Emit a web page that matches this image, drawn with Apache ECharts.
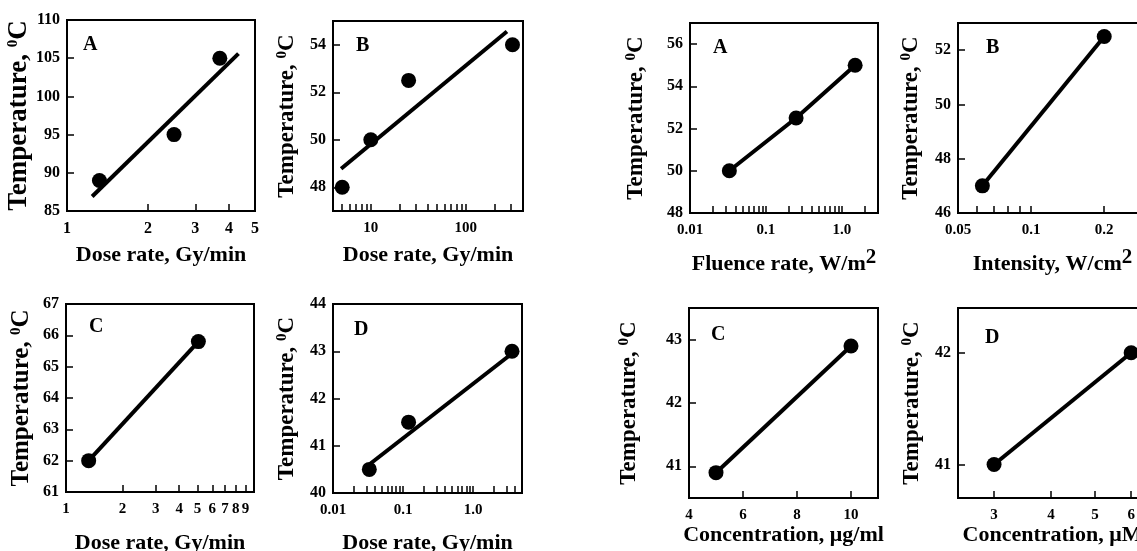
<!DOCTYPE html>
<html>
<head>
<meta charset="utf-8">
<script src="https://cdn.jsdelivr.net/npm/echarts@6/dist/echarts.min.js"></script>
<style>
html, body { margin: 0; padding: 0; background: #fff; }
#chart { width: 1137px; height: 551px; }
</style>
</head>
<body>
<div id="chart"></div>
<script>
// values
// left block, panel A: dose rate (Gy/min) vs temperature
var aDose = [1.32, 2.5, 3.7]
var aTemp = [89, 95, 105]
var aFitDose = [1.24, 4.34]
var aFitTemp = [86.9, 105.6]
var aXLabels = ['1', '2', '3', '4', '5']
var aXTicks = [2, 3, 4]
var aYLabels = [85, 90, 95, 100, 105, 110]

// left block, panel B
var bDose = [5, 10, 25, 310]
var bTemp = [48, 50, 52.5, 54]
var bFitDose = [4.87, 271]
var bFitTemp = [48.78, 54.56]
var bXLabels = ['10', '100']
var bXTicks = [5, 6, 7, 8, 9, 10, 20, 30, 40, 50, 60, 70, 80, 90, 100, 200, 300]
var bYLabels = [48, 50, 52, 54]

// left block, panel C
var cDose = [1.32, 5.06]
var cTemp = [62, 65.8]
var cXLabels = ['1', '2', '3', '4', '5', '6', '7', '8', '9']
var cXTicks = [2, 3, 4, 5, 6, 7, 8, 9]
var cYLabels = [61, 62, 63, 64, 65, 66, 67]

// left block, panel D
var dDose = [0.033, 0.12, 3.6]
var dTemp = [40.5, 41.5, 43]
var dFitDose = [0.034, 3.24]
var dFitTemp = [40.62, 42.9]
var dXLabels = ['0.01', '0.1', '1.0']
var dXTicks = [0.02, 0.03, 0.04, 0.05, 0.06, 0.07, 0.08, 0.09, 0.1, 0.2, 0.3, 0.4, 0.5, 0.6, 0.7, 0.8, 0.9, 1, 2, 3, 4]
var dYLabels = [40, 41, 42, 43, 44]

// right block, panel A: fluence rate (W/m2)
var eFluence = [0.033, 0.25, 1.5]
var eTemp = [50, 52.5, 55]
var eXLabels = ['0.01', '0.1', '1.0']
var eXTicks = [0.02, 0.03, 0.04, 0.05, 0.06, 0.07, 0.08, 0.09, 0.1, 0.2, 0.3, 0.4, 0.5, 0.6, 0.7, 0.8, 0.9, 1, 2]
var eYLabels = [48, 50, 52, 54, 56]

// right block, panel B: intensity (W/cm2)
var fIntensity = [0.063, 0.2]
var fTemp = [47, 52.5]
var fXLabels = ['0.05', '0.1', '0.2']
var fXTicks = [0.06, 0.07, 0.08, 0.09, 0.1, 0.2]
var fYLabels = [46, 48, 50, 52]

// right block, panel C: concentration (ug/ml)
var gConc = [5, 10]
var gTemp = [40.9, 42.9]
var gXLabels = ['4', '6', '8', '10']
var gXTicks = [6, 8, 10]
var gYLabels = [41, 42, 43]

// right block, panel D: concentration (uM)
var hConc = [3, 6]
var hTemp = [41, 42]
var hXLabels = ['3', '4', '5', '6']
var hXTicks = [3, 4, 5, 6]
var hYLabels = [41, 42]

var FONT = 'Liberation Serif'
var chart = echarts.init(document.getElementById('chart'))

var grids = [], xAxes = [], yAxes = [], series = [], titles = []

function pairs(xs, ys, log) {
    return xs.map(function (x, k) { return [log ? Math.log10(x) : x, ys[k]] })
}

function addPanel(p) {
    var i = grids.length
    var tx = function (v) { return p.log ? Math.log10(v) : v }
    grids.push({
        left: p.box[0], top: p.box[1], width: p.box[2], height: p.box[3],
        show: true, borderColor: '#000', borderWidth: 2,
        outerBoundsMode: 'none', containLabel: false
    })
    var labelVals = p.xLabels.map(function (s) { return tx(parseFloat(s)) })
    xAxes.push({
        type: 'value', gridIndex: i,
        min: tx(p.xRange[0]), max: tx(p.xRange[1]),
        name: p.xName, nameLocation: 'middle', nameGap: p.xGap,
        nameTextStyle: {
            fontFamily: FONT, fontWeight: 'bold', fontSize: 22, color: '#000',
            rich: { s: { fontFamily: FONT, fontWeight: 'bold', fontSize: 21, color: '#000', padding: [0, 0, 13, 0] } }
        },
        axisLine: { show: true, onZero: false, lineStyle: { color: '#000', width: 2 } },
        axisTick: { show: true, inside: true, length: 7, customValues: p.xTicks.map(tx), lineStyle: { color: '#000', width: 1.5 } },
        axisLabel: {
            customValues: labelVals, margin: 10,
            fontFamily: FONT, fontWeight: 'bold', fontSize: p.tickSize || 15, color: '#000',
            formatter: function (v) {
                for (var k = 0; k < labelVals.length; k++) {
                    if (Math.abs(labelVals[k] - v) < 1e-6) return p.xLabels[k]
                }
                return ''
            }
        },
        splitLine: { show: false }
    })
    yAxes.push({
        type: 'value', gridIndex: i,
        min: p.yRange[0], max: p.yRange[1],
        name: 'Temperature, {s|0}C', nameLocation: 'middle', nameGap: p.yGap, nameRotate: 90,
        nameTextStyle: {
            fontFamily: FONT, fontWeight: 'bold', fontSize: p.yNameSize || 23, color: '#000',
            rich: { s: { fontFamily: FONT, fontWeight: 'bold', fontSize: 15, color: '#000', padding: [0, 0, 10, 0] } }
        },
        axisLine: { show: true, onZero: false, lineStyle: { color: '#000', width: 2 } },
        axisTick: { show: true, inside: true, length: 7, customValues: p.yLabels, lineStyle: { color: '#000', width: 1.5 } },
        axisLabel: {
            customValues: p.yLabels, margin: 7,
            fontFamily: FONT, fontWeight: 'bold', fontSize: 16, color: '#000'
        },
        splitLine: { show: false }
    })
    if (p.fit) {
        series.push({
            type: 'line', xAxisIndex: i, yAxisIndex: i, symbol: 'none',
            data: pairs(p.fit[0], p.fit[1], p.log),
            lineStyle: { color: '#000', width: 4 }
        })
        series.push({
            type: 'scatter', xAxisIndex: i, yAxisIndex: i, symbolSize: 15,
            data: pairs(p.xs, p.ys, p.log),
            itemStyle: { color: '#000', opacity: 1 }
        })
    } else {
        series.push({
            type: 'line', xAxisIndex: i, yAxisIndex: i,
            symbol: 'circle', symbolSize: 15, showSymbol: true,
            data: pairs(p.xs, p.ys, p.log),
            lineStyle: { color: '#000', width: 4 },
            itemStyle: { color: '#000', opacity: 1 }
        })
    }
    titles.push({
        text: p.letter, left: p.letterPos[0], top: p.letterPos[1],
        textStyle: { fontFamily: FONT, fontWeight: 'bold', fontSize: 20, color: '#000' }
    })
}

addPanel({ box: [67, 20, 188, 191], log: true, xRange: [1, 5], yRange: [85, 110],
    xs: aDose, ys: aTemp, fit: [aFitDose, aFitTemp], xLabels: aXLabels, xTicks: aXTicks, yLabels: aYLabels,
    xName: 'Dose rate, Gy/min', xGap: 33, yGap: 32, yNameSize: 27, tickSize: 16, letter: 'A', letterPos: [78, 30] })
addPanel({ box: [333, 21, 190, 190], log: true, xRange: [4, 400], yRange: [47, 55],
    xs: bDose, ys: bTemp, fit: [bFitDose, bFitTemp], xLabels: bXLabels, xTicks: bXTicks, yLabels: bYLabels,
    xName: 'Dose rate, Gy/min', xGap: 33, yGap: 33, letter: 'B', letterPos: [351, 31] })
addPanel({ box: [66, 304, 188, 188], log: true, xRange: [1, 10], yRange: [61, 67],
    xs: cDose, ys: cTemp, xLabels: cXLabels, xTicks: cXTicks, yLabels: cYLabels,
    xName: 'Dose rate, Gy/min', xGap: 40, yGap: 32, yNameSize: 25, letter: 'C', letterPos: [84, 312] })
addPanel({ box: [333, 304, 189, 189], log: true, xRange: [0.01, 5], yRange: [40, 44],
    xs: dDose, ys: dTemp, fit: [dFitDose, dFitTemp], xLabels: dXLabels, xTicks: dXTicks, yLabels: dYLabels,
    xName: 'Dose rate, Gy/min', xGap: 39, yGap: 33, letter: 'D', letterPos: [349, 315] })
addPanel({ box: [690, 23, 188, 190], log: true, xRange: [0.01, 3], yRange: [48, 57],
    xs: eFluence, ys: eTemp, xLabels: eXLabels, xTicks: eXTicks, yLabels: eYLabels,
    xName: 'Fluence rate, W/m{s|2}', xGap: 34, yGap: 41, letter: 'A', letterPos: [708, 33] })
addPanel({ box: [958, 23, 189, 190], log: true, xRange: [0.05, 0.3], yRange: [46, 53],
    xs: fIntensity, ys: fTemp, xLabels: fXLabels, xTicks: fXTicks, yLabels: fYLabels,
    xName: 'Intensity, W/cm{s|2}', xGap: 34, yGap: 34, letter: 'B', letterPos: [981, 33] })
addPanel({ box: [689, 308, 189, 190], log: false, xRange: [4, 11], yRange: [40.5, 43.5],
    xs: gConc, ys: gTemp, xLabels: gXLabels, xTicks: gXTicks, yLabels: gYLabels,
    xName: 'Concentration, μg/ml', xGap: 20, yGap: 47, letter: 'C', letterPos: [706, 320] })
addPanel({ box: [958, 308, 189, 190], log: true, xRange: [2.5, 6.5], yRange: [40.7, 42.4],
    xs: hConc, ys: hTemp, xLabels: hXLabels, xTicks: hXTicks, yLabels: hYLabels,
    xName: 'Concentration, μM', xGap: 20, yGap: 33, letter: 'D', letterPos: [980, 323] })

chart.setOption({
    animation: false,
    backgroundColor: '#fff',
    title: titles,
    grid: grids,
    xAxis: xAxes,
    yAxis: yAxes,
    series: series
})
</script>
</body>
</html>
